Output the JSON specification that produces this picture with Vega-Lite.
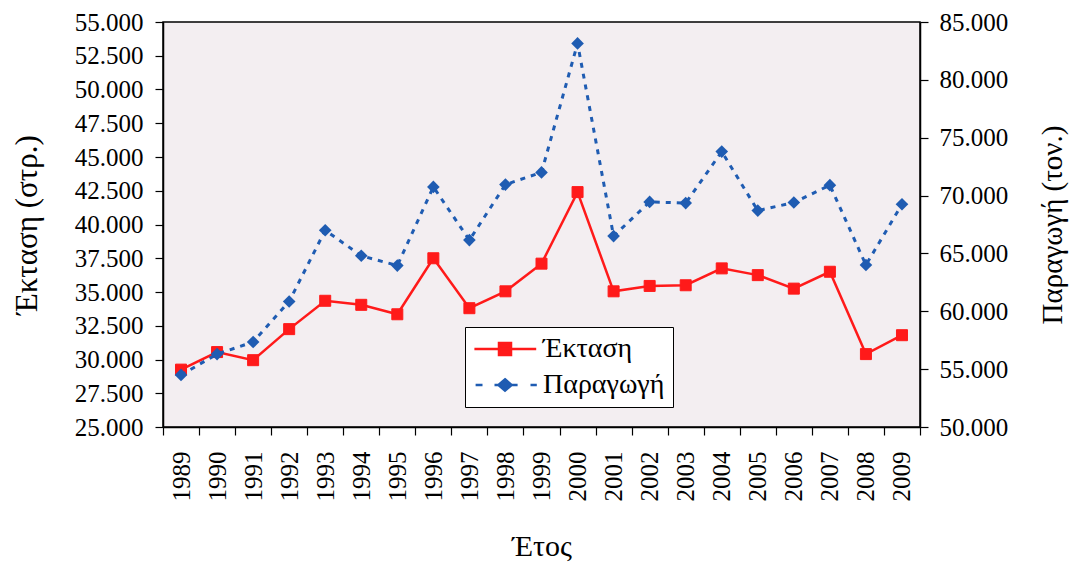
{
  "$schema": "https://vega.github.io/schema/vega-lite/v6.json",
  "width": 757,
  "height": 405,
  "autosize": {"type": "none"},
  "padding": {"left": 163, "top": 22, "right": 153, "bottom": 138},
  "background": "white",
  "config": {
    "locale": {"number": {"decimal": ",", "thousands": ".", "grouping": [3], "currency": ["", " €"]}},
    "view": {"fill": "#f3eef1", "stroke": "black", "strokeWidth": 1.5},
    "font": "Liberation Serif",
    "axis": {
      "labelFont": "Liberation Serif", "titleFont": "Liberation Serif",
      "labelColor": "black", "titleColor": "black", "titleFontWeight": "normal",
      "domainColor": "black", "tickColor": "black", "grid": false,
      "labelFontSize": 25, "titleFontSize": 30, "tickSize": 8, "domainWidth": 1.5, "tickWidth": 1.2
    }
  },
  "data": {"values": [
    {"year": "1989", "ektasi": 29250, "paragogi": 54500},
    {"year": "1990", "ektasi": 30550, "paragogi": 56300},
    {"year": "1991", "ektasi": 29950, "paragogi": 57350},
    {"year": "1992", "ektasi": 32250, "paragogi": 60850},
    {"year": "1993", "ektasi": 34350, "paragogi": 67000},
    {"year": "1994", "ektasi": 34050, "paragogi": 64800},
    {"year": "1995", "ektasi": 33350, "paragogi": 63950},
    {"year": "1996", "ektasi": 37500, "paragogi": 70750},
    {"year": "1997", "ektasi": 33800, "paragogi": 66150},
    {"year": "1998", "ektasi": 35050, "paragogi": 70950},
    {"year": "1999", "ektasi": 37100, "paragogi": 72000},
    {"year": "2000", "ektasi": 42400, "paragogi": 83150},
    {"year": "2001", "ektasi": 35050, "paragogi": 66500},
    {"year": "2002", "ektasi": 35450, "paragogi": 69450},
    {"year": "2003", "ektasi": 35500, "paragogi": 69350},
    {"year": "2004", "ektasi": 36750, "paragogi": 73800},
    {"year": "2005", "ektasi": 36250, "paragogi": 68700},
    {"year": "2006", "ektasi": 35250, "paragogi": 69400},
    {"year": "2007", "ektasi": 36500, "paragogi": 70900},
    {"year": "2008", "ektasi": 30400, "paragogi": 64000},
    {"year": "2009", "ektasi": 31800, "paragogi": 69250}
  ]},
  "encoding": {
    "x": {
      "field": "year", "type": "ordinal",
      "scale": {"type": "band", "paddingInner": 0, "paddingOuter": 0},
      "axis": {"title": "Έτος", "labelAngle": -90, "tickBand": "extent", "labelPadding": 16, "titlePadding": 30, "titleFontSize": 30}
    }
  },
  "layer": [
    {
      "encoding": {
        "y": {
          "field": "ektasi", "type": "quantitative",
          "scale": {"domain": [25000, 55000], "nice": false, "zero": false},
          "axis": {"orient": "left", "title": "Έκταση (στρ.)", "format": ",d", "labelPadding": 12, "titlePadding": 31, "titleFontSize": 31,
                   "values": [25000, 27500, 30000, 32500, 35000, 37500, 40000, 42500, 45000, 47500, 50000, 52500, 55000]}
        }
      },
      "layer": [
        {
          "mark": {"type": "line", "strokeWidth": 2.5},
          "encoding": {
            "color": {
              "datum": "Έκταση",
              "scale": {"domain": ["Έκταση", "Παραγωγή"], "range": ["#ff1a1a", "#1f5cb2"]},
              "legend": {
                "orient": "none", "legendX": 302, "legendY": 305, "title": null,
                "fillColor": "white", "strokeColor": "black", "padding": 8,
                "labelFont": "Liberation Serif", "labelFontSize": 28, "labelColor": "black",
                "symbolSize": 144, "symbolOffset": 18, "labelOffset": 24, "rowPadding": 8, "symbolStrokeWidth": 2.5,
                "encode": {
                  "symbols": {
                    "update": {
                      "shape": {"signal": "datum.value === 'Έκταση' ? 'M-5.1,0H5.2M-1,-1H1V1H-1Z' : 'M-4.9,0H-3.75M-1.75,0H-0.9M0.9,0H2.1M4.25,0H5.3M0,-0.95L1.1,0L0,0.95L-1.1,0Z'"},
                      "fill": {"signal": "datum.value === 'Έκταση' ? '#ff1a1a' : '#1f5cb2'"},
                      "opacity": {"value": 1}
                    }
                  }
                }
              }
            }
          }
        },
        {
          "mark": {"type": "point", "shape": "square", "filled": true, "color": "#ff1a1a", "size": 121, "opacity": 1, "stroke": "#ff1a1a", "strokeWidth": 1}
        }
      ]
    },
    {
      "encoding": {
        "y": {
          "field": "paragogi", "type": "quantitative",
          "scale": {"domain": [50000, 85000], "nice": false, "zero": false},
          "axis": {"orient": "right", "title": "Παραγωγή (τον.)", "format": ",d", "labelPadding": 11, "titlePadding": 31, "titleAngle": -90, "titleBaseline": "top", "titleFontSize": 29,
                   "values": [50000, 55000, 60000, 65000, 70000, 75000, 80000, 85000]}
        }
      },
      "layer": [
        {
          "mark": {"type": "line", "strokeWidth": 3, "strokeDash": [5, 6]},
          "encoding": {"color": {"datum": "Παραγωγή"}}
        },
        {
          "mark": {"type": "point", "shape": "diamond", "filled": true, "color": "#1f5cb2", "size": 160, "opacity": 1}
        }
      ]
    }
  ],
  "resolve": {"scale": {"y": "independent"}}
}
